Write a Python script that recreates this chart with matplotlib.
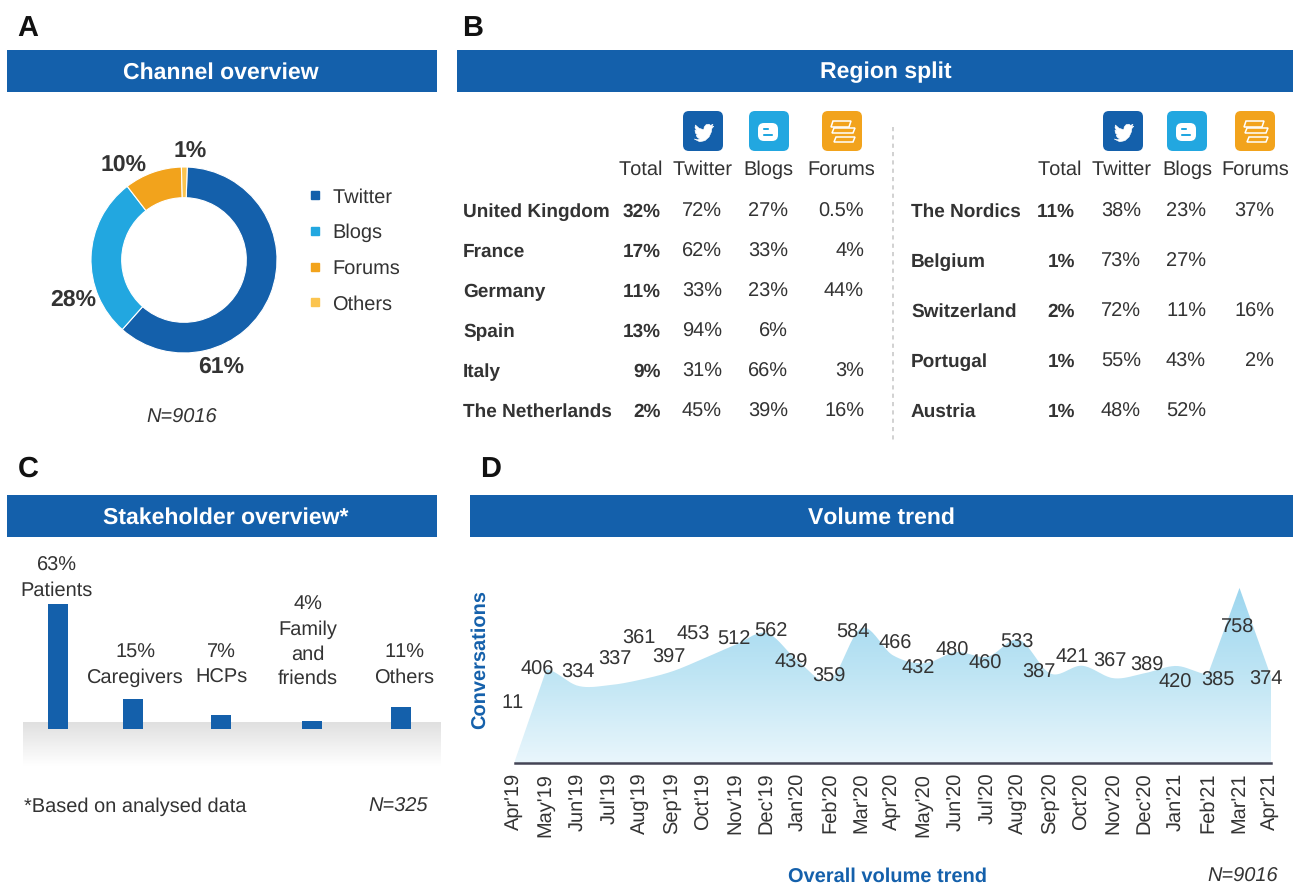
import numpy as np
import matplotlib
matplotlib.use("Agg")
import matplotlib.pyplot as plt
from matplotlib.patches import Rectangle, FancyBboxPatch, Polygon, PathPatch
from matplotlib.path import Path
from matplotlib.lines import Line2D
from matplotlib.colors import LinearSegmentedColormap

plt.rcParams['font.family'] = ['Liberation Sans', 'DejaVu Sans']
plt.rcParams['text.hinting'] = 'no_hinting'
plt.rcParams['text.hinting_factor'] = 1
plt.rcParams['text.kerning_factor'] = 6

# ---------- data ----------
channel_labels = ['Twitter', 'Blogs', 'Forums', 'Others']
channel_values = [61, 28, 10, 1]
channel_texts = ['61%', '28%', '10%', '1%']

left_countries = ['United Kingdom', 'France', 'Germany', 'Spain', 'Italy', 'The Netherlands']
left_total = ['32%', '17%', '11%', '13%', '9%', '2%']
left_twitter = ['72%', '62%', '33%', '94%', '31%', '45%']
left_blogs = ['27%', '33%', '23%', '6%', '66%', '39%']
left_forums = ['0.5%', '4%', '44%', '', '3%', '16%']

right_countries = ['The Nordics', 'Belgium', 'Switzerland', 'Portugal', 'Austria']
right_total = ['11%', '1%', '2%', '1%', '1%']
right_twitter = ['38%', '73%', '72%', '55%', '48%']
right_blogs = ['23%', '27%', '11%', '43%', '52%']
right_forums = ['37%', '', '16%', '2%', '']

stake_labels = ['63%\nPatients', '15%\nCaregivers', '7%\nHCPs', '4%\nFamily\nand\nfriends', '11%\nOthers']
stake_values = [63, 15, 7, 4, 11]

months = ["Apr'19", "May'19", "Jun'19", "Jul'19", "Aug'19", "Sep'19", "Oct'19", "Nov'19", "Dec'19",
          "Jan'20", "Feb'20", "Mar'20", "Apr'20", "May'20", "Jun'20", "Jul'20", "Aug'20", "Sep'20",
          "Oct'20", "Nov'20", "Dec'20", "Jan'21", "Feb'21", "Mar'21", "Apr'21"]
volume = [11, 406, 334, 337, 361, 397, 453, 512, 562, 439, 359, 584, 466, 432, 480, 460, 533, 387,
          421, 367, 389, 420, 385, 758, 374]

# ---------- layout (pixels) ----------
W, H = 1296, 886
BLUE, SKY, ORANGE, YELLOW = '#1460ab', '#22a7e0', '#f2a31c', '#fbc44f'
INK = '#333333'
FS = 14.5
bar_px = [58, 133, 221, 312, 401]
stake_label_px = [(57, 577), (135, 664), (221, 664), (308, 641), (404, 664)]
pct_label_px = [(221, 365), (73, 298), (124, 163), (190, 149)]
volume_label_px = [(513, 702), (537, 669), (578, 672), (615, 659), (639, 638), (669, 657), (693, 634),
                   (734, 639), (771, 631), (791, 662), (829, 676), (853, 632), (895, 643), (918, 668),
                   (952, 650), (985, 663), (1017, 642), (1039, 672), (1072, 656), (1110, 661),
                   (1147, 665), (1175, 682), (1218, 680), (1238, 627), (1266, 679)]

fig = plt.figure(figsize=(W / 100, H / 100), dpi=100, facecolor='white')


def px_axes(x0, y0, x1, y1, **kw):
    return fig.add_axes([x0 / W, 1 - y1 / H, (x1 - x0) / W, (y1 - y0) / H], **kw)


# ---------- A: donut ----------
ax_d = px_axes(91, 167, 277, 353)
wedges, _ = ax_d.pie(channel_values, colors=[BLUE, SKY, ORANGE, YELLOW], startangle=88,
                     counterclock=False, radius=1, wedgeprops=dict(width=0.33, edgecolor='white', linewidth=0.8))
ax_d.set_xlim(-1, 1)
ax_d.set_ylim(-1, 1)
handles = [Line2D([], [], marker='s', ls='', ms=5.5, color=c) for c in [BLUE, SKY, ORANGE, YELLOW]]
fig.legend(handles, channel_labels, loc='upper left', bbox_to_anchor=(305 / W, 1 - 188 / H), frameon=False,
           prop={'size': 14.6}, labelspacing=0.84, handlelength=1, handletextpad=0.35, labelcolor=INK,
           borderpad=0, borderaxespad=0)

# ---------- C: bars ----------
ax_g = px_axes(23, 722, 441, 766)
ax_g.imshow(np.linspace(0, 1, 64).reshape(-1, 1), aspect='auto',
            cmap=LinearSegmentedColormap.from_list('g', ['#e0e0e0', '#ffffff']))
ax_g.axis('off')
ax_b = px_axes(0, 560, 450, 729)
ax_b.patch.set_alpha(0)
ax_b.bar(bar_px, stake_values, width=20, color=BLUE)
ax_b.set_xlim(0, 450)
ax_b.set_ylim(0, 169 / 1.98)
ax_b.axis('off')

# ---------- D: area ----------
ax_a = px_axes(515, 560, 1271, 763)
ax_a.patch.set_alpha(0)
y_scale_top = 203 / 0.231
ax_a.set_xlim(0, len(volume) - 1)
ax_a.set_ylim(0, y_scale_top)


def smooth(values, n=20):
    """Rounded drawing of the polyline through the values, with straight ramps at the ends and the spike."""
    v = np.asarray(values, float)
    m = np.zeros_like(v)
    m[1:-1] = (v[2:] - v[:-2]) / 2
    m[1] = -20
    m[22] = 0
    xs, ys = [], []
    straight = {0, 22, 23}
    for i in range(len(v) - 1):
        t = np.linspace(0, 1, n, endpoint=False)
        if i in straight:
            h = v[i] + (v[i + 1] - v[i]) * t
        else:
            h = ((2*t**3 - 3*t**2 + 1) * v[i] + (t**3 - 2*t**2 + t) * m[i]
                 + (-2*t**3 + 3*t**2) * v[i+1] + (t**3 - t**2) * m[i+1])
        xs.append(i + t)
        ys.append(h)
    return np.r_[np.concatenate(xs), len(v) - 1], np.r_[np.concatenate(ys), v[-1]]


sx, sy = smooth(volume)
img = ax_a.imshow(np.linspace(0, 1, 256).reshape(-1, 1), aspect='auto',
                  extent=(0, len(volume) - 1, 0, max(volume)), origin='upper',
                  cmap=LinearSegmentedColormap.from_list('a', ['#9dd6ef', '#bfe5f4', '#e9f6fc']))
clip = PathPatch(Path(np.c_[np.r_[sx, sx[-1], 0], np.r_[sy, 0, 0]]), transform=ax_a.transData, fc='none', ec='none')
ax_a.add_patch(clip)
img.set_clip_path(clip)
ax_a.set_xlim(0, len(volume) - 1)
ax_a.set_ylim(0, y_scale_top)
ax_a.set_xticks(range(len(months)))
ax_a.set_xticklabels(months, rotation=90, fontsize=14.4, color=INK)
ax_a.set_yticks([])
ax_a.tick_params(axis='x', length=0, pad=7)
for s in ['top', 'left', 'right']:
    ax_a.spines[s].set_visible(False)
ax_a.spines['bottom'].set_color('#444455')
ax_a.spines['bottom'].set_linewidth(1.8)

# ---------- overlay for headers and text ----------
ov = px_axes(0, 0, W, H, zorder=10)
ov.set_xlim(0, W)
ov.set_ylim(H, 0)
ov.axis('off')
ov.patch.set_alpha(0)


def T(x, y, s, ha='center', va='center_baseline', size=FS, weight='normal', style='normal', color=INK, **kw):
    ov.text(x, y - 1, s, ha=ha, va=va, fontsize=size, fontweight=weight, fontstyle=style, color=color, **kw)


for x0, x1, y0, title, tx, letter, lx, ly in [
    (7, 437, 50, 'Channel overview', 221, 'A', 28, 26),
    (457, 1293, 50, 'Region split', 886, 'B', 473, 26),
    (7, 437, 495, 'Stakeholder overview*', 226, 'C', 28, 467),
    (470, 1293, 495, 'Volume trend', 881, 'D', 491, 467),
]:
    ov.add_patch(Rectangle((x0, y0), x1 - x0, 42, fc=BLUE, ec='none'))
    T(tx, y0 + 21, title, size=16.4, weight='bold', color='white')
    T(lx, ly, letter, size=21, weight='bold', color='#111111')

# donut labels
for (x, y), s in zip(pct_label_px, channel_texts):
    T(x, y, s, size=16.6, weight='bold')
T(182, 417, 'N=9016', style='italic')


# icons
def icon_base(x, y, c):
    ov.add_patch(FancyBboxPatch((x + 4, y + 4), 32, 32, boxstyle='round,pad=4,rounding_size=6', fc=c, ec='none'))


BIRD = [(0.28, 0.70), (0.36, 0.72), (0.42, 0.70), (0.36, 0.66), (0.33, 0.61), (0.36, 0.60), (0.31, 0.55),
        (0.30, 0.48), (0.34, 0.49), (0.30, 0.42), (0.31, 0.35), (0.40, 0.43), (0.52, 0.47), (0.53, 0.40),
        (0.58, 0.34), (0.65, 0.33), (0.69, 0.36), (0.75, 0.33), (0.72, 0.39), (0.77, 0.38), (0.72, 0.44),
        (0.71, 0.52), (0.65, 0.65), (0.55, 0.74), (0.42, 0.77)]


def twitter_icon(x, y):
    icon_base(x, y, BLUE)
    ov.add_patch(Polygon([(x + 40 * u, y + 40 * v) for u, v in BIRD], fc='white', ec='white', lw=0.4, joinstyle='round'))


def blog_icon(x, y):
    icon_base(x, y, SKY)
    ov.add_patch(FancyBboxPatch((x + 9, y + 12), 20, 18, boxstyle='round,pad=0,rounding_size=6', fc='white', ec='none'))
    ov.add_patch(FancyBboxPatch((x + 14, y + 17), 6, 2, boxstyle='round,pad=0,rounding_size=1', fc=SKY, ec='none'))
    ov.add_patch(FancyBboxPatch((x + 14, y + 23), 10, 2, boxstyle='round,pad=0,rounding_size=1', fc=SKY, ec='none'))


def forum_icon(x, y):
    icon_base(x, y, ORANGE)
    for (a, b, t, h) in [(9, 29, 10, 6), (10, 33, 17, 5), (12, 33, 26, 5)]:
        ov.add_patch(Polygon([(x + a + 2, y + t), (x + b, y + t), (x + b - 2, y + t + h), (x + a, y + t + h)],
                             fc='none', ec='white', lw=1.1))


for xs_ in [(683, 749, 822), (1103, 1167, 1235)]:
    twitter_icon(xs_[0], 111)
    blog_icon(xs_[1], 111)
    forum_icon(xs_[2], 111)

# left table
T(663, 169, 'Total', ha='right')
T(703, 169, 'Twitter')
T(768, 169, 'Blogs')
T(841, 169, 'Forums')
for i, y in enumerate([211, 251, 291, 331, 371, 411]):
    T(463, y, left_countries[i], ha='left', weight='bold', size=13.7)
    T(661, y, left_total[i], ha='right', weight='bold', size=13.7)
    T(722, y, left_twitter[i], ha='right')
    T(788, y, left_blogs[i], ha='right')
    T(864, y, left_forums[i], ha='right')

# right table
ov.plot([893, 893], [127, 440], color='#c9c9c9', lw=1.2, ls=(0, (2.5, 2.5)))
T(1082, 169, 'Total', ha='right')
T(1122, 169, 'Twitter')
T(1187, 169, 'Blogs')
T(1255, 169, 'Forums')
for i, y in enumerate([211, 261, 311, 361, 411]):
    T(911, y, right_countries[i], ha='left', weight='bold', size=13.7)
    T(1075, y, right_total[i], ha='right', weight='bold', size=13.7)
    T(1141, y, right_twitter[i], ha='right')
    T(1206, y, right_blogs[i], ha='right')
    T(1274, y, right_forums[i], ha='right')

# stakeholder labels
for (x, y), s in zip(stake_label_px, stake_labels):
    T(x, y + 2, s, va='center', linespacing=1.42, size=14.5)
T(24, 806, '*Based on analysed data', ha='left', size=14.3)
T(428, 806, 'N=325', ha='right', style='italic')

# volume labels and titles
for (x, y), v in zip(volume_label_px, volume):
    T(x, y, str(v), size=14.5)
T(480, 661, 'Conversations', va='center', rotation=90, weight='bold', color=BLUE, size=14.7)
T(888, 876, 'Overall volume trend', weight='bold', color=BLUE, size=14.3)
T(1278, 876, 'N=9016', ha='right', style='italic')

fig.savefig('out.png', dpi=100, facecolor='white')
